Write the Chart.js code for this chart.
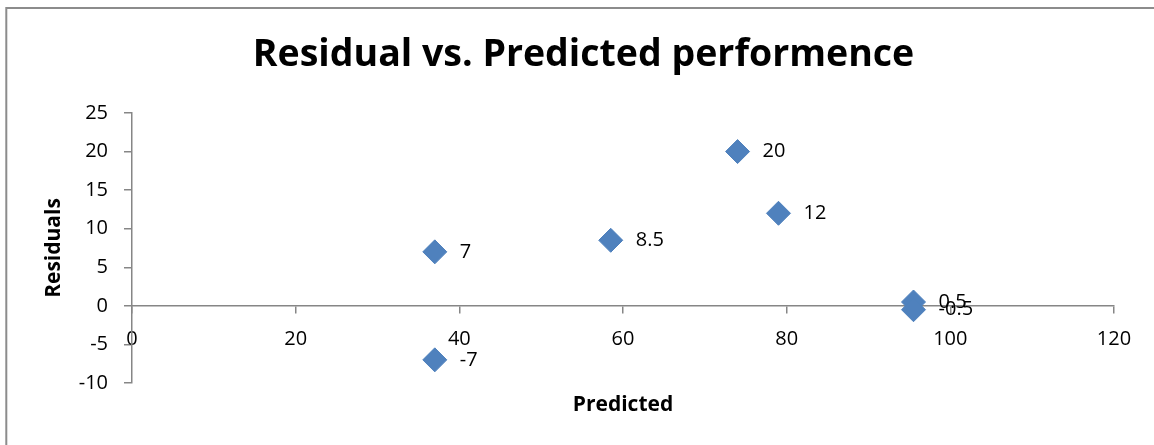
<!DOCTYPE html>
<html>
<head>
<meta charset="utf-8">
<script src="https://cdn.jsdelivr.net/npm/chart.js@4/dist/chart.umd.min.js"></script>
<style>
  html, body { margin: 0; padding: 0; background: #ffffff; overflow: hidden; }
  #wrap { position: relative; width: 1154px; height: 445px; }
</style>
</head>
<body>
<div id="wrap"><canvas id="chart" width="1154" height="445"></canvas></div>
<script>
// Predicted performance vs. residual for each observation
const predicted = [37, 37, 58.5, 74, 79, 95.5, 95.5];
const residuals = [7, -7, 8.5, 20, 12, 0.5, -0.5];

// Axis ranges and tick spacing
const xTicks = { min: 0, max: 120, step: 20 };
const yTicks = { min: -10, max: 25, step: 5 };

const titleText = 'Residual vs. Predicted performence';
const xTitle = 'Predicted';
const yTitle = 'Residuals';

const FONT = '"Open Sans"';
const AXIS_GREY = '#868686';
const MARKER = '#4F81BD';

const points = predicted.map((x, i) => ({ x: x, y: residuals[i] }));

// Grey frame around the chart object
const framePlugin = {
  id: 'frame',
  beforeDraw(chart) {
    const ctx = chart.ctx;
    ctx.save();
    ctx.fillStyle = '#ffffff';
    ctx.fillRect(0, 0, chart.width, chart.height);
    ctx.strokeStyle = '#8c8c8c';
    ctx.lineWidth = 2;
    ctx.beginPath();
    ctx.moveTo(6.3, chart.height + 5);
    ctx.lineTo(6.3, 8);
    ctx.lineTo(chart.width + 5, 8);
    ctx.stroke();
    ctx.restore();
  }
};

// Value labels to the right of each marker
const valueLabels = {
  id: 'valueLabels',
  afterDatasetsDraw(chart) {
    const ctx = chart.ctx;
    const meta = chart.getDatasetMeta(0);
    ctx.save();
    ctx.font = '20px ' + FONT;
    ctx.fillStyle = '#000000';
    ctx.textAlign = 'left';
    ctx.textBaseline = 'middle';
    meta.data.forEach((el, i) => {
      ctx.fillText(String(residuals[i]), el.x + 25, el.y);
    });
    ctx.restore();
  }
};

new Chart(document.getElementById('chart'), {
  type: 'scatter',
  data: {
    datasets: [{
      label: yTitle,
      data: points,
      pointStyle: 'rectRot',
      pointRadius: 12,
      pointHoverRadius: 12,
      pointBackgroundColor: MARKER,
      pointBorderColor: MARKER,
      pointBorderWidth: 1
    }]
  },
  options: {
    responsive: false,
    animation: false,
    events: [],
    layout: { padding: { left: 53, right: 40, top: 0, bottom: 62 } },
    plugins: {
      legend: { display: false },
      tooltip: { enabled: false },
      title: {
        display: true,
        text: titleText,
        color: '#000000',
        font: { family: FONT, size: 37.5, weight: 'bold', lineHeight: 1.2 },
        padding: { top: 33, bottom: 35 }
      }
    },
    scales: {
      x: {
        type: 'linear',
        position: { y: 0 },
        min: xTicks.min,
        max: xTicks.max,
        ticks: {
          stepSize: xTicks.step,
          color: '#000000',
          padding: 14,
          maxRotation: 0,
          font: { family: FONT, size: 20 }
        },
        grid: {
          display: true,
          drawOnChartArea: false,
          drawTicks: true,
          tickLength: 7,
          color: AXIS_GREY,
          lineWidth: 1.5
        },
        border: { display: true, color: AXIS_GREY, width: 1.5 },
        title: {
          display: true,
          text: xTitle,
          color: '#000000',
          font: { family: FONT, size: 21, weight: 'bold', lineHeight: 1.2 },
          padding: { top: 28, bottom: 0 }
        }
      },
      y: {
        type: 'linear',
        position: 'left',
        min: yTicks.min,
        max: yTicks.max,
        ticks: {
          stepSize: yTicks.step,
          color: '#000000',
          padding: 16,
          font: { family: FONT, size: 20 }
        },
        grid: {
          display: true,
          drawOnChartArea: false,
          drawTicks: true,
          tickLength: 8,
          color: AXIS_GREY,
          lineWidth: 1.5
        },
        border: { display: true, color: AXIS_GREY, width: 1.5 },
        title: {
          display: true,
          text: yTitle,
          color: '#000000',
          font: { family: FONT, size: 21, weight: 'bold', lineHeight: 1.2 },
          padding: { top: -11.6, bottom: 0 }
        },
        afterFit(scale) { scale.width = 79; }
      }
    }
  },
  plugins: [framePlugin, valueLabels]
});
</script>
</body>
</html>
